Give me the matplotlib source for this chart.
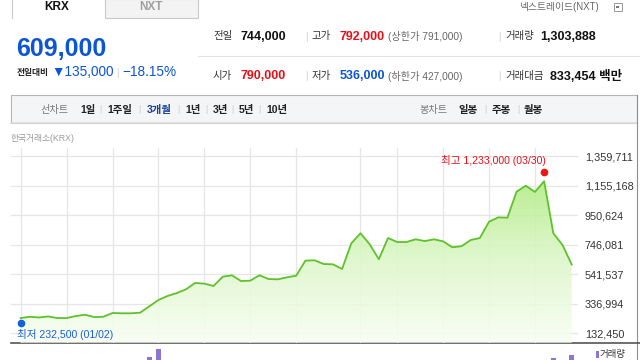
import numpy as np
import matplotlib.pyplot as plt
from matplotlib.colors import LinearSegmentedColormap
from matplotlib.patches import Rectangle
from matplotlib.transforms import offset_copy

plt.rcParams['font.family'] = ['Liberation Sans', 'Noto Sans CJK KR', 'DejaVu Sans']

# daily closes 2026-01-02 .. 2026-04-02 (KRX)
closes = [238000, 247000, 242000, 249000, 238000, 238000, 252000, 261000, 245000, 247000,
          273000, 271000, 271000, 275000, 319000, 363000, 391000, 411000, 437000, 481000,
          476000, 460000, 524000, 534000, 494000, 497000, 534000, 508000, 506000, 520000,
          531000, 635000, 638000, 612000, 610000, 578000, 755000, 825000, 749000, 645000,
          792000, 764000, 764000, 783000, 771000, 783000, 769000, 728000, 735000, 778000,
          792000, 905000, 935000, 933000, 1113000, 1154000, 1111000, 1185000, 825000, 744000,
          609000]
week_idx = [0, 5, 10, 15, 20, 25, 30, 37, 41, 46, 51, 56]   # vertical grid (fridays)
y_ticks = ['132,450', '336,994', '541,537', '746,081', '950,624', '1,155,168', '1,359,711']
high_idx, high_val, high_date = 57, 1233000, '03/30'
low_idx, low_val, low_date = 0, 232500, '01/02'

# only the tops of these volume bars show above the crop
vol_idx = [14, 15, 58, 60]
volumes = [1240000, 1516000, 1203000, 1303888]

price = '609,000'
change = '135,000'
change_pct = '\u221218.15%'
periods = ['1일', '1주일', '3개월', '1년', '3년', '5년', '10년']
candles = ['일봉', '주봉', '월봉']

BLUE = '#0b55d6'
RED = '#e60f19'
GREEN = '#5ec22a'

fig = plt.figure(figsize=(6.4, 3.6), dpi=100)

# page layer in pixel coords
page = fig.add_axes([0, 0, 1, 1])
page.set_xlim(0, 640)
page.set_ylim(360, 0)
page.axis('off')


def t(x, y, s, size=7.5, color='#333333', weight='normal', ha='left'):
    page.text(x, y, s, fontsize=size, color=color, fontweight=weight, ha=ha, va='center')


# tabs
page.add_patch(Rectangle((104.5, -1), 93, 18.5, facecolor='#f3f3f3', edgecolor='#c9c9c9', lw=0.8))
page.plot([11.7, 11.7], [-1, 18], color='#c9c9c9', lw=0.8)
t(57, 6.5, 'KRX', 8.5, '#111111', 'bold', 'center')
t(151, 6.5, 'NXT', 8.5, '#a0a0a0', 'bold', 'center')
t(519, 7, '넥스트레이드(NXT)', 7, '#666666')
page.add_patch(Rectangle((613.5, 3), 8, 8, facecolor='white', edgecolor='#999999', lw=0.7))
page.add_patch(Rectangle((616, 5.5), 3, 2.5, facecolor='#777777', edgecolor='none'))

# current price block
page.text(16, 56.5, price, fontsize=18, color=BLUE, fontweight='bold', va='baseline')
t(16.5, 72.5, '전일대비', 6.3, '#222222', 'bold')
t(51, 72.5, '\u25bc' + change, 9.8, BLUE)
t(116.5, 72.5, '|', 7, '#cccccc')
t(122.5, 72.5, change_pct, 9.8, BLUE)

# info grid
page.plot([198, 640], [56, 56], color='#e3e3e3', lw=0.8)
for yy in (36.5, 76):
    t(305, yy, '|', 7, '#cccccc')
    t(498.5, yy, '|', 7, '#cccccc')
t(213, 36.5, '전일')
t(240.5, 36.5, '744,000', 9, '#111111', 'bold')
t(312, 36.5, '고가')
t(340, 36.5, '792,000', 9, RED, 'bold')
t(388, 36.5, '(상한가 791,000)', 7.3, '#666666')
t(505, 36.5, '거래량')
t(540.5, 36.5, '1,303,888', 9, '#111111', 'bold')
t(213, 76, '시가')
t(240.5, 76, '790,000', 9, RED, 'bold')
t(312, 76, '저가')
t(340, 76, '536,000', 9, BLUE, 'bold')
t(388, 76, '(하한가 427,000)', 7.3, '#666666')
t(505, 76, '거래대금')
t(549.5, 76, '833,454 백만', 9, '#111111', 'bold')

# period bar
page.add_patch(Rectangle((11, 95), 626, 28.3, facecolor='#f4f5f7', edgecolor='#b5b5b5', lw=0.8))
page.plot([11, 637], [123.3, 123.3], color='#dcdcdc', lw=1.2)
t(40.5, 109.5, '선차트', 7.3, '#777777')
period_x = [80, 107.5, 146.5, 185, 213, 239, 266.5]
for i, (px, lab) in enumerate(zip(period_x, periods)):
    col = '#1c3f9e' if lab == '3개월' else '#222222'
    t(px, 109.5, lab, 7.5, col, 'bold')
    if i > 0:
        t(px - 7, 109.5, '|', 6.5, '#cfcfcf', ha='center')
t(419, 109.5, '봉차트', 7.3, '#777777')
for i, (px, lab) in enumerate(zip([458, 491.5, 524], candles)):
    t(px, 109.5, lab, 7.5, '#222222', 'bold')
    if i > 0:
        t(px - 6, 109.5, '|', 6.5, '#cfcfcf', ha='center')
t(11, 138.5, '한국거래소(KRX)', 6.3, '#9a9a9a')

# page borders
page.plot([636.7, 636.7], [95, 360], color='#8f8f8f', lw=0.8)
page.plot([11, 640], [342.7, 342.7], color='#555555', lw=1.2)

# price chart
d = 9.183
x0 = 20.7
ax = fig.add_axes([11 / 640, (360 - 342.7) / 360, (578 - 11) / 640, (342.7 - 148) / 360])
xlim = ((11 - x0) / d, (578 - x0) / d)
tick_vals = [int(s.replace(',', '')) for s in y_ticks]
px_per = (tick_vals[-1] - tick_vals[0]) / (333.3 - 156.0)
ylim = (tick_vals[0] - (342.7 - 333.3) * px_per, tick_vals[-1] + (156.0 - 148) * px_per)

idx = np.arange(len(closes))
area = ax.fill_between(idx, closes, ylim[0], facecolor='none', edgecolor='none')
grad = np.linspace(0, 1, 256).reshape(-1, 1)
cmap = LinearSegmentedColormap.from_list('grn', ['#f8fef3', '#def7cb', '#b3ec86'])
im = ax.imshow(grad, extent=[xlim[0], xlim[1], ylim[0], 1200000], origin='lower',
               aspect='auto', cmap=cmap, zorder=1, alpha=0.9)
im.set_clip_path(area.get_paths()[0], transform=ax.transData)
ax.plot(idx, closes, color=GREEN, lw=1.3, zorder=3)

ax.set_xlim(*xlim)
ax.set_ylim(*ylim)
ax.set_xticks(week_idx)
ax.set_yticks(tick_vals)
ax.set_yticklabels(y_ticks)
ax.yaxis.tick_right()
ax.tick_params(axis='y', length=0, pad=5, labelsize=7.8, labelcolor='#333333')
ax.tick_params(axis='x', length=0, labelbottom=False)
ax.grid(True, color='#e6e6e6', lw=0.9, zorder=0)
ax.set_axisbelow(True)
for s in ax.spines.values():
    s.set_visible(False)
ax.patch.set_alpha(0)

# high / low markers
up = offset_copy(ax.transData, fig=fig, x=0, y=1.5, units='points')
down = offset_copy(ax.transData, fig=fig, x=0, y=-2.8, units='points')
ax.plot(high_idx, high_val, 'o', color='#f01414', ms=4.5, transform=up, zorder=4, clip_on=False)
ax.plot(low_idx, low_val, 'o', color='#1560d8', ms=4.5, transform=down, zorder=4, clip_on=False)
ax.annotate(f'최고 {high_val:,} ({high_date})', (high_idx, high_val), xytext=(1.5, 10),
            textcoords='offset points', ha='right', va='center', fontsize=7.6, color=RED)
ax.annotate(f'최저 {low_val:,} ({low_date})', (low_idx, low_val), xytext=(-2.5, -11),
            textcoords='offset points', ha='left', va='center', fontsize=7.6, color='#1a5ed6')

# volume strip (cropped at the bottom)
vax = fig.add_axes([11 / 640, 0, (578 - 11) / 640, (360 - 343.5) / 360])
vax.bar(vol_idx, volumes, width=0.5, color='#8d76cf')
vax.set_xlim(*xlim)
vax.set_ylim(1117000, 1733000)
vax.axis('off')
page.add_patch(Rectangle((596, 351), 2.7, 7.3, facecolor='#8d76cf', edgecolor='none'))
t(600, 355, '거래량', 6.8, '#333333')

fig.savefig('out.png', dpi=100)
